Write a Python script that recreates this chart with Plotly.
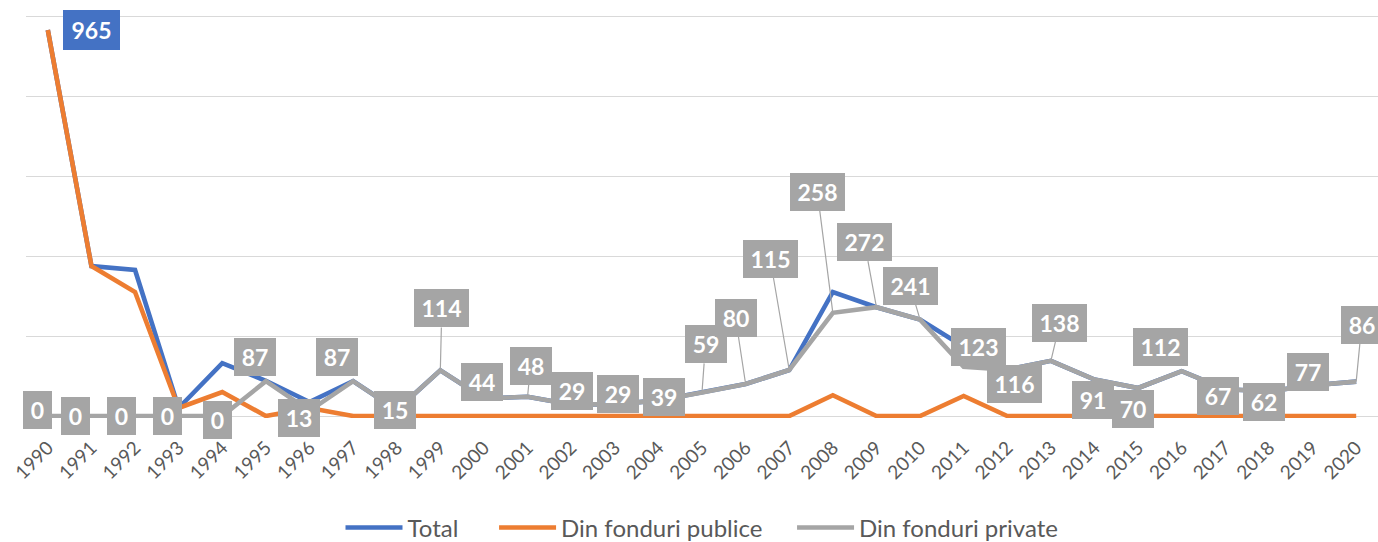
import plotly.graph_objects as go

years = [str(y) for y in range(1990, 2021)]
total = [965, 375, 365, 20, 132, 88, 35, 87, 15, 114, 44, 48, 29, 29, 39, 59, 80, 115,
         310, 272, 241, 173, 116, 138, 91, 70, 112, 67, 62, 77, 86]
publice = [965, 375, 310, 20, 60, 0, 20, 0, 0, 0, 0, 0, 0, 0, 0, 0, 0, 0,
           52, 0, 0, 50, 0, 0, 0, 0, 0, 0, 0, 0, 0]
private = [0, 0, 0, 0, 0, 87, 13, 87, 15, 114, 44, 48, 29, 29, 39, 59, 80, 115,
           258, 272, 241, 123, 116, 138, 91, 70, 112, 67, 62, 77, 86]
series_names = ["Total", "Din fonduri publice", "Din fonduri private"]

# label placement (pixel offsets from point) and whether a leader line is drawn
label_dx = [-10, -16, -14, -11.5, -5, -11, -10, -16, -2, 1.5, -2, 3, 0.5, 3, 6, 3.5, -10, -19,
            -15.5, -12, -10, 15, 7, 9, -2, -5, -21, -7.5, -5, -5, 5.5]
label_dy = [-6, 0, 0, 0, 4, -24, 7, -24, 0, -62, -16, -31, -13, -10, -3, -48, -66, -111,
            -121, -65, -34, -20, 14, -38, 20, 21, -24, 7, 11, -13, -57]
leader = [0, 0, 0, 0, 0, 0, 0, 0, 0, 1, 0, 1, 0, 0, 0, 1, 1, 1,
          1, 1, 1, 0, 0, 1, 0, 0, 0, 0, 0, 0, 1]

BLUE = "#4472C4"
ORANGE = "#ED7D31"
GRAY = "#A5A5A5"
FONT = "Lato"
NB = "\u00a0"
legend_pad = [NB * 5, NB * 4, ""]

fig = go.Figure()
for vals, name, col, pad in zip([total, publice, private], series_names,
                                [BLUE, ORANGE, GRAY], legend_pad):
    fig.add_trace(go.Scatter(x=years, y=vals, mode="lines", name=name + pad,
                             line=dict(color=col, width=4.6)))

for i, (yr, v) in enumerate(zip(years, private)):
    txt = str(v)
    fig.add_annotation(
        x=i, y=v, xref="x", yref="y", text="<b>" + txt + "</b>",
        showarrow=True, arrowhead=0, arrowwidth=1.2,
        arrowcolor=GRAY if leader[i] else "rgba(0,0,0,0)",
        ax=label_dx[i], ay=label_dy[i],
        bgcolor=GRAY, borderpad=4, borderwidth=0,
        width=13 * len(txt) + 8, height=30,
        font=dict(family=FONT, size=23, color="white"),
    )
fig.add_annotation(
    x=0, y=total[0], xref="x", yref="y", text="<b>" + str(total[0]) + "</b>",
    showarrow=True, arrowhead=0, arrowcolor="rgba(0,0,0,0)",
    ax=43.5, ay=0,
    bgcolor=BLUE, borderpad=5, borderwidth=0,
    width=13 * 3 + 8, height=30,
    font=dict(family=FONT, size=23, color="white"),
)

fig.update_layout(
    width=1378, height=542,
    margin=dict(l=26, r=0, t=14, b=124, autoexpand=False),
    paper_bgcolor="white", plot_bgcolor="white",
    font=dict(family=FONT, color="#595959"),
    showlegend=True,
    legend=dict(orientation="h", x=0.5, xanchor="center", y=-0.272, yanchor="middle",
                font=dict(family=FONT, size=24, color="#595959"),
                itemwidth=57),
)
fig.update_xaxes(type="category", range=[-0.5, 30.5], tickangle=-45, automargin=False,
                 tickfont=dict(family=FONT, size=19, color="#595959"),
                 ticklabelstandoff=14,
                 showgrid=False, showline=False, ticks="", fixedrange=True)
fig.update_yaxes(range=[-5, 1005], dtick=200, showticklabels=False, automargin=False,
                 showgrid=True, gridcolor="#D9D9D9", gridwidth=1.3,
                 zeroline=True, zerolinecolor="#D9D9D9", zerolinewidth=1.3,
                 showline=False, ticks="", fixedrange=True)

fig.write_html("out.html", config={"displayModeBar": False},
               post_script="document.body.style.margin='0';document.body.style.overflow='hidden';")
